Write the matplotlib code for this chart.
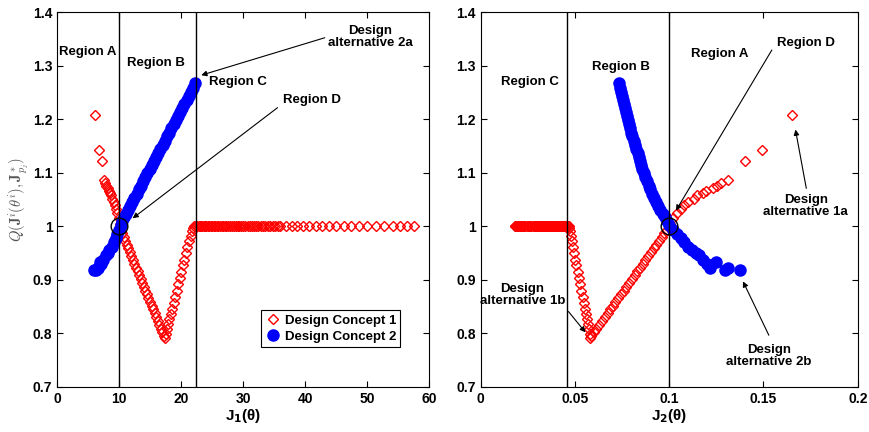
import numpy as np
import matplotlib
matplotlib.use("Agg")
import matplotlib.pyplot as plt
from matplotlib.ticker import FormatStrFormatter

plt.rcParams["font.family"] = ["Liberation Sans", "DejaVu Sans"]
plt.rcParams["font.weight"] = "bold"

# Design concept 1 (red diamonds): each design has J1, J2 and Q
# region A branch
c1a_j1 = [6.15, 6.7, 7.15, 7.45, 7.7, 7.9, 8.1, 8.3, 8.5, 8.7, 8.9, 9.1, 9.3, 9.5, 9.7, 9.9, 10.05]
c1a_j2 = [0.165, 0.149, 0.140, 0.131, 0.1275, 0.1255, 0.123, 0.1195, 0.118, 0.115, 0.113,
          0.110, 0.108, 0.106, 0.104, 0.102, 0.1005]
c1a_q = [1.208, 1.142, 1.123, 1.087, 1.082, 1.076, 1.071, 1.066, 1.063, 1.058, 1.052,
         1.046, 1.040, 1.033, 1.025, 1.016, 1.005]
# region B, falling side
c1b_j1 = [10.2, 10.45, 10.7, 10.95, 11.2, 11.45, 11.7, 11.95, 12.2, 12.45, 12.7, 12.95, 13.2,
          13.45, 13.7, 13.95, 14.2, 14.45, 14.7, 14.95, 15.2, 15.45, 15.7, 15.95, 16.2, 16.45,
          16.7, 16.95, 17.2, 17.35]
c1b_j2 = [0.0988, 0.0974, 0.0960, 0.0945, 0.0931, 0.0917, 0.0903, 0.0887, 0.0873, 0.0859,
          0.0845, 0.0830, 0.0816, 0.0802, 0.0788, 0.0772, 0.0758, 0.0744, 0.0729, 0.0715,
          0.0701, 0.0687, 0.0673, 0.0657, 0.0643, 0.0628, 0.0614, 0.0600, 0.0586, 0.0582]
c1b_q = [0.994, 0.987, 0.980, 0.973, 0.966, 0.959, 0.952, 0.944, 0.937, 0.930, 0.923, 0.916,
         0.909, 0.902, 0.895, 0.887, 0.880, 0.873, 0.866, 0.859, 0.852, 0.845, 0.838, 0.830,
         0.823, 0.816, 0.809, 0.802, 0.795, 0.792]
# region B, rising side
c1c_j1 = [17.5, 17.7, 17.9, 18.1, 18.3, 18.5, 18.75, 19.0, 19.25, 19.5, 19.75, 20.0, 20.25,
          20.5, 20.75, 21.0, 21.25, 21.5, 21.7, 21.9, 22.1]
c1c_j2 = [0.0578, 0.0573, 0.0568, 0.0563, 0.0558, 0.0553, 0.0546, 0.0540, 0.0534, 0.0527,
          0.0521, 0.0515, 0.0508, 0.0502, 0.0495, 0.0489, 0.0483, 0.0477, 0.0473, 0.0470, 0.0468]
c1c_q = [0.799, 0.808, 0.818, 0.827, 0.836, 0.845, 0.857, 0.869, 0.880, 0.892, 0.904, 0.915,
         0.927, 0.938, 0.950, 0.962, 0.973, 0.983, 0.991, 0.997, 1.0]
# region C, flat at Q = 1
c1_flat_q = 1.0
c1_flat_j1 = [22.4, 22.6, 22.8, 23.0, 23.2, 23.4, 23.6, 23.8, 24.0, 24.25, 24.5, 24.75, 25.0,
              25.25, 25.5, 25.75, 26.0, 26.25, 26.5, 26.75, 27.0, 27.3, 27.6, 27.9, 28.2, 28.5,
              28.8, 29.1, 29.4, 29.7, 30.0, 30.35, 30.7, 31.05, 31.4, 31.75, 32.1, 32.45, 32.8,
              33.2, 33.6, 34.0, 34.4, 34.8, 35.2, 35.6, 36.0, 36.9, 37.8, 38.7, 39.7, 40.7,
              41.7, 42.8, 43.9, 45.0, 46.2, 47.4, 48.7, 50.0, 51.4, 52.8, 54.2, 55.3, 56.5, 57.6]
c1_flat_j2 = [0.0464, 0.0460, 0.0456, 0.0452, 0.0448, 0.0444, 0.0441, 0.0437, 0.0433, 0.0429,
              0.0424, 0.0420, 0.0416, 0.0412, 0.0408, 0.0404, 0.0400, 0.0396, 0.0392, 0.0389,
              0.0385, 0.0381, 0.0377, 0.0373, 0.0369, 0.0365, 0.0361, 0.0357, 0.0354, 0.0350,
              0.0347, 0.0343, 0.0339, 0.0335, 0.0331, 0.0328, 0.0324, 0.0320, 0.0317, 0.0313,
              0.0310, 0.0306, 0.0302, 0.0299, 0.0295, 0.0292, 0.0289, 0.0282, 0.0275, 0.0269,
              0.0262, 0.0256, 0.0249, 0.0243, 0.0237, 0.0231, 0.0225, 0.0219, 0.0214, 0.0208,
              0.0202, 0.0197, 0.0192, 0.0188, 0.0184, 0.0181]

# Design concept 2 (blue dots)
c2_j1 = [5.9, 6.3, 6.6, 6.5, 6.9, 7.1, 7.4, 7.8, 8.1, 8.4, 8.8, 9.1, 9.4, 9.7, 9.9,
         10.2, 10.5, 10.8, 11.1,
         11.4, 11.75, 12.1, 12.45, 12.8, 13.15, 13.5, 13.85, 14.2, 14.55, 14.9, 15.25, 15.6,
         15.95, 16.3, 16.65, 17.0, 17.35, 17.7, 18.05, 18.4, 18.75, 19.1, 19.45, 19.8, 20.15,
         20.5, 20.85, 21.2, 21.55, 21.9, 22.3]
c2_j2 = [0.1376, 0.1296, 0.1310, 0.1217, 0.1248, 0.1200, 0.1180, 0.1160, 0.1140, 0.1120,
         0.1100, 0.1080, 0.1060, 0.1040, 0.1020,
         0.0999, 0.0988, 0.0977, 0.0965,
         0.0951, 0.0939, 0.0928, 0.0919, 0.0909, 0.0899, 0.0891, 0.0881, 0.0871, 0.0865,
         0.0858, 0.0852, 0.0845, 0.0838, 0.0832, 0.0825, 0.0818, 0.0812, 0.0805, 0.0799,
         0.0793, 0.0787, 0.0782, 0.0776, 0.0771, 0.0766, 0.0760, 0.0754, 0.0749, 0.0744,
         0.0739, 0.0733]
c2_q = [0.918, 0.919, 0.922, 0.922, 0.934, 0.930, 0.938, 0.946, 0.950, 0.955, 0.962, 0.970,
        0.978, 0.985, 0.993,
        1.003, 1.010, 1.017, 1.024,
        1.031, 1.038, 1.046, 1.053, 1.061, 1.069, 1.076, 1.084, 1.092, 1.099, 1.107, 1.114,
        1.122, 1.130, 1.137, 1.145, 1.153, 1.160, 1.168, 1.175, 1.183, 1.191, 1.198, 1.206,
        1.214, 1.221, 1.229, 1.237, 1.244, 1.252, 1.259, 1.268]

region_lines_j1 = [10.0, 22.4]
region_lines_j2 = [0.0458, 0.1]
crossing_j1 = (10.0, 1.0)
crossing_j2 = (0.1, 1.0)

c1_j1 = np.array(c1a_j1 + c1b_j1 + c1c_j1 + c1_flat_j1)
c1_j2 = np.array(c1a_j2 + c1b_j2 + c1c_j2 + c1_flat_j2)
c1_q = np.concatenate([c1a_q, c1b_q, c1c_q, np.full(len(c1_flat_j1), c1_flat_q)])

fig = plt.figure(figsize=(8.69, 4.32), dpi=100)
ax1 = fig.add_axes([0.0660, 0.1042, 0.4277, 0.8673])
ax2 = fig.add_axes([0.5532, 0.1042, 0.4338, 0.8673])

red_kw = dict(ls="none", marker="D", ms=5.3, mfc="none", mec="red", mew=1.0)
blue_kw = dict(ls="none", marker="o", ms=8, mfc="blue", mec="blue")
text_kw = dict(fontsize=9.5, fontweight="bold", ha="center", va="center")
arrow_kw = dict(arrowstyle="-|>", color="black", lw=0.8, mutation_scale=8)

for ax, c1x, c2x, lines, cross in [(ax1, c1_j1, c2_j1, region_lines_j1, crossing_j1),
                                    (ax2, c1_j2, c2_j2, region_lines_j2, crossing_j2)]:
    ax.plot(c1x, c1_q, label="Design Concept 1", **red_kw)
    ax.plot(c2x, c2_q, label="Design Concept 2", **blue_kw)
    for v in lines:
        ax.axvline(v, color="black", lw=1)
    ax.plot(*cross, ls="none", marker="o", ms=12, mfc="none", mec="black", mew=1)
    ax.set_ylim(0.7, 1.4)
    ax.set_yticks(np.arange(0.7, 1.41, 0.1))
    ax.yaxis.set_major_formatter(FormatStrFormatter("%g"))
    ax.tick_params(direction="in", top=True, right=True, labelsize=10, length=4)
    for lab in ax.get_xticklabels() + ax.get_yticklabels():
        lab.set_fontweight("bold")

# left panel
ax1.set_xlim(0, 60)
ax1.set_xticks(range(0, 61, 10))
ax1.set_xlabel(r"J$_\mathbf{1}$(θ)", fontsize=11, fontweight="bold", labelpad=1)
ax1.set_ylabel(r"$Q(\mathbf{J}^i(\theta^i),\mathbf{J}^*_{p_j})$", fontsize=10.5,
               fontweight="normal", math_fontfamily="cm", color="#555555", labelpad=2)
ax1.text(4.9, 1.326, "Region A", **text_kw)
ax1.text(15.9, 1.305, "Region B", **text_kw)
ax1.text(29.2, 1.269, "Region C", **text_kw)
ax1.text(41.1, 1.236, "Region D", **text_kw)
ax1.text(50.5, 1.353, "Design\nalternative 2a", linespacing=1.0, **text_kw)
ax1.annotate("", xy=(22.8, 1.281), xytext=(43.6, 1.354), arrowprops=arrow_kw)
ax1.annotate("", xy=(11.8, 1.012), xytext=(35.9, 1.225), arrowprops=arrow_kw)
leg = ax1.legend(loc="lower right", bbox_to_anchor=(0.94, 0.09), fontsize=9.5,
                 handletextpad=0.3, borderpad=0.3, labelspacing=0.3, fancybox=False,
                 edgecolor="black", framealpha=1, handlelength=1.2)
leg.get_frame().set_linewidth(0.8)
for t in leg.get_texts():
    t.set_fontweight("bold")

# right panel
ax2.set_xlim(0, 0.2)
ax2.set_xticks([0, 0.05, 0.1, 0.15, 0.2])
ax2.xaxis.set_major_formatter(FormatStrFormatter("%g"))
for lab in ax2.get_xticklabels():
    lab.set_fontweight("bold")
ax2.set_xlabel(r"J$_\mathbf{2}$(θ)", fontsize=11, fontweight="bold", labelpad=1)
ax2.text(0.026, 1.270, "Region C", **text_kw)
ax2.text(0.0746, 1.298, "Region B", **text_kw)
ax2.text(0.1266, 1.322, "Region A", **text_kw)
ax2.text(0.1726, 1.343, "Region D", **text_kw)
ax2.annotate("", xy=(0.1028, 1.025), xytext=(0.1552, 1.334), arrowprops=arrow_kw)
ax2.text(0.1725, 1.039, "Design\nalternative 1a", linespacing=1.0, **text_kw)
ax2.annotate("", xy=(0.1667, 1.186), xytext=(0.173, 1.066), arrowprops=arrow_kw)
ax2.text(0.0222, 0.872, "Design\nalternative 1b", linespacing=1.0, **text_kw)
ax2.annotate("", xy=(0.0565, 0.798), xytext=(0.0456, 0.845), arrowprops=arrow_kw)
ax2.text(0.153, 0.758, "Design\nalternative 2b", linespacing=1.0, **text_kw)
ax2.annotate("", xy=(0.1385, 0.902), xytext=(0.1535, 0.792), arrowprops=arrow_kw)

fig.savefig("out.png", dpi=100)
